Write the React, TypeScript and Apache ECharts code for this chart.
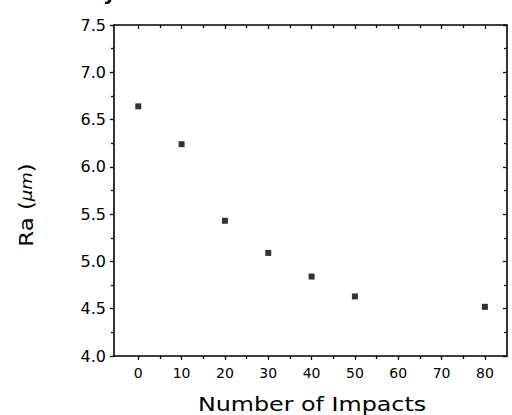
import React, { useEffect, useRef } from "react";
import * as echarts from "echarts";

const impacts = [0, 10, 20, 30, 40, 50, 80];
const ra = [6.64, 6.24, 5.43, 5.09, 4.84, 4.63, 4.52];
const xMajorTicks = [0, 10, 20, 30, 40, 50, 60, 70, 80];
const xMinorTicks = [5, 15, 25, 35, 45, 55, 65, 75];
const xTitle = "Number of Impacts";

const FONT = "DejaVu Sans";
const X_MIN = -5.6;
const X_MAX = 85.1;

export default function App() {
  const ref = useRef<HTMLDivElement>(null);
  useEffect(() => {
    document.body.style.margin = "0";
    if (!ref.current) return;
    const chart = echarts.init(ref.current, null, { renderer: "svg" });
    const axisLine = { show: true, onZero: false, lineStyle: { color: "#000", width: 1.6 } };
    const noLine = { show: false, onZero: false };
    const tickStyle = { color: "#000", width: 1.3 };
    const baseX = {
      type: "value" as const,
      min: X_MIN,
      max: X_MAX,
      splitLine: { show: false },
    };
    const baseY = {
      type: "value" as const,
      min: 4,
      max: 7.5,
      interval: 0.5,
      splitLine: { show: false },
    };
    chart.setOption({
      animation: false,
      backgroundColor: "#fff",
      grid: { left: 114, right: 5, top: 25, bottom: 59, containLabel: false, outerBoundsMode: "none" },
      xAxis: [
        {
          ...baseX,
          position: "bottom",
          axisLine,
          axisTick: { show: true, inside: false, length: 4, customValues: xMajorTicks, lineStyle: tickStyle },
          axisLabel: {
            show: true,
            customValues: xMajorTicks,
            margin: 10,
            fontSize: 14,
            fontFamily: FONT,
            color: "#000",
          },
        },
        {
          ...baseX,
          position: "bottom",
          axisLine: noLine,
          axisTick: { show: true, inside: false, length: 3, customValues: xMinorTicks, lineStyle: tickStyle },
          axisLabel: { show: false },
        },
        {
          ...baseX,
          position: "top",
          axisLine,
          axisTick: { show: true, inside: true, length: 4, customValues: xMajorTicks, lineStyle: tickStyle },
          axisLabel: { show: false },
        },
        {
          ...baseX,
          position: "top",
          axisLine: noLine,
          axisTick: { show: true, inside: true, length: 3, customValues: xMinorTicks, lineStyle: tickStyle },
          axisLabel: { show: false },
        },
      ],
      yAxis: [
        {
          ...baseY,
          position: "left",
          axisLine,
          axisTick: { show: true, inside: false, length: 4, lineStyle: tickStyle },
          minorTick: { show: true, splitNumber: 2, length: 3, lineStyle: tickStyle },
          axisLabel: {
            show: true,
            margin: 8,
            fontSize: 16,
            fontFamily: FONT,
            color: "#000",
            formatter: (v: number) => v.toFixed(1),
          },
        },
        {
          ...baseY,
          position: "right",
          axisLine,
          axisTick: { show: true, inside: true, length: 4, lineStyle: tickStyle },
          minorTick: { show: true, splitNumber: 2, length: 3, lineStyle: tickStyle },
          axisLabel: { show: false },
        },
      ],
      graphic: [
        {
          type: "text",
          x: 312,
          y: 404,
          scaleX: 1.19,
          style: {
            text: xTitle,
            fontSize: 20,
            fontFamily: FONT,
            fill: "#000",
            align: "center",
            verticalAlign: "middle",
          },
        },
        {
          type: "text",
          x: 27,
          y: 205,
          rotation: Math.PI / 2,
          scaleX: 1.2,
          style: {
            text: "{a|Ra (}{b|μm}{a|)}",
            align: "center",
            verticalAlign: "middle",
            fill: "#000",
            rich: {
              a: { fontSize: 19, fontFamily: FONT, fill: "#000" },
              b: { fontSize: 15, fontFamily: FONT, fontStyle: "italic", fill: "#000" },
            },
          },
        },
        {
          type: "text",
          x: 103,
          y: 3,
          style: {
            text: "y",
            fontSize: 20,
            fontWeight: "bold",
            fontFamily: FONT,
            fill: "#000",
            align: "left",
            verticalAlign: "bottom",
          },
        },
      ],
      series: [
        {
          type: "scatter",
          xAxisIndex: 0,
          yAxisIndex: 0,
          symbol: "rect",
          symbolSize: 6,
          itemStyle: { color: "#000" },
          data: impacts.map((x, i) => [x, ra[i]]),
        },
      ],
    });
    return () => chart.dispose();
  }, []);
  return <div ref={ref} style={{ width: 512, height: 415 }} />;
}
